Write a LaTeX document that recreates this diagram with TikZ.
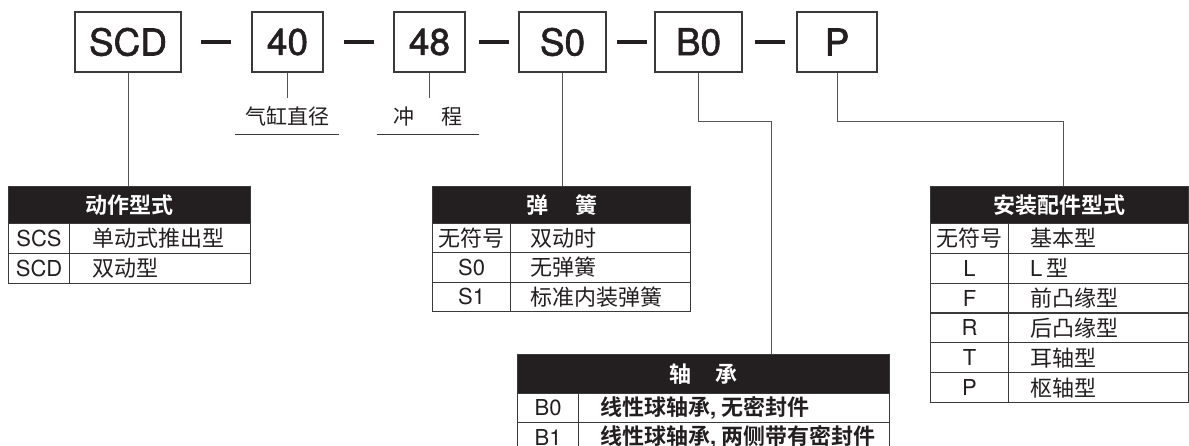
\documentclass[tikz,border=0pt]{standalone}
\usepackage{fontspec}
\setmainfont{TeX Gyre Heros}
\newfontfamily\codefont{TeX Gyre Heros}[FakeBold=1.5]
\newfontfamily\cjk{Noto Sans CJK SC}[BoldFont={Noto Sans CJK SC Bold}]
\usetikzlibrary{calc}
\definecolor{ink}{HTML}{231F20}
\definecolor{rulec}{HTML}{3A3A3A}
\definecolor{wirec}{HTML}{555555}
\begin{document}
\begin{tikzpicture}[x=1pt,y=-1pt,
 codebox/.style={draw=rulec,line width=1.3pt,inner sep=0pt,minimum height=60pt,font=\fontsize{37}{40}\codefont,text=ink},
 dashbar/.style={fill=ink,inner sep=0pt,minimum width=30pt,minimum height=4pt},
 wire/.style={draw=wirec,line width=1pt},
 uline/.style={draw=rulec,line width=1.3pt},
 lab/.style={inner xsep=0pt,inner ysep=10pt,text height=16pt,text depth=0pt,font=\fontsize{21}{24}\cjk,text=ink,anchor=north},
 hdr/.style={fill=ink,draw=rulec,line width=1.2pt,text=white,font=\fontsize{22}{26}\cjk\bfseries,inner sep=0pt,anchor=north west,minimum height=37pt},
 cell/.style={draw=rulec,line width=1.1pt,inner sep=0pt,anchor=north west,font=\fontsize{22}{26}\selectfont,text=ink},
 val/.style={anchor=west,inner sep=0pt,font=\fontsize{22}{26}\cjk,text=ink},
]
\useasboundingbox (0,0) rectangle (1189,446);
\clip (0,0) rectangle (1189,446);

% code boxes
\node[codebox,minimum width=106pt] (scd) at (128,42) {SCD};
\node[codebox,minimum width=71pt] (b40) at (287.5,42) {40};
\node[codebox,minimum width=71pt] (b48) at (429.5,42) {48};
\node[codebox,minimum width=87pt] (s0) at (562.5,42) {S0};
\node[codebox,minimum width=87pt] (b0) at (698.5,42) {B0};
\node[codebox,minimum width=80pt] (p) at (837,42) {P};
\node[dashbar] (d1) at (216,42) {};
\node[dashbar] (d2) at (359,42) {};
\node[dashbar] (d3) at (493.5,42) {};
\node[dashbar] (d4) at (632,42) {};
\node[dashbar] (d5) at (770,42) {};

% labels
\node[lab,minimum width=104pt] (dia) at (287,98) {气缸直径};
\node[lab,minimum width=102pt] (stk) at (428,98) {冲\hspace{28pt}程};
\draw[wire] (b40.south) -- (b40.south |- dia.north);
\draw[wire] (b48.south) -- (b48.south |- stk.north);
\draw[uline] (dia.south west) -- (dia.south east);
\draw[uline] (stk.south west) -- (stk.south east);

% table 1
\node[hdr,minimum width=242pt] (ah) at (8,186) {动作型式};
\node[cell,minimum width=61pt,minimum height=30pt] (a1k) at (8,223) {SCS};
\node[cell,minimum width=181pt,minimum height=30pt] (a1v) at (69,223) {};
\node[val] (a1t) at ([xshift=23pt]a1v.west) {单动式推出型};
\node[cell,minimum width=61pt,minimum height=30pt] (a2k) at (8,253) {SCD};
\node[cell,minimum width=181pt,minimum height=30pt] (a2v) at (69,253) {};
\node[val] (a2t) at ([xshift=23pt]a2v.west) {双动型};

% table 2
\node[hdr,minimum width=258pt] (bh) at (432,186) {弹\hspace{27pt}簧};
\node[cell,minimum width=78pt,minimum height=29.3pt] (b1k) at (432,223) {\cjk 无符号};
\node[cell,minimum width=180pt,minimum height=29.3pt] (b1v) at (510,223) {};
\node[val] (b1t) at ([xshift=20pt]b1v.west) {双动时};
\node[cell,minimum width=78pt,minimum height=29.3pt] (b2k) at (432,252.3) {S0};
\node[cell,minimum width=180pt,minimum height=29.3pt] (b2v) at (510,252.3) {};
\node[val] (b2t) at ([xshift=20pt]b2v.west) {无弹簧};
\node[cell,minimum width=78pt,minimum height=29.3pt] (b3k) at (432,281.7) {S1};
\node[cell,minimum width=180pt,minimum height=29.3pt] (b3v) at (510,281.7) {};
\node[val] (b3t) at ([xshift=20pt]b3v.west) {标准内装弹簧};

% table 3
\node[hdr,minimum width=372pt,minimum height=39pt] (ch) at (517,354) {轴\hspace{24pt}承};
\node[cell,minimum width=61pt,minimum height=29pt] (c1k) at (517,393) {B0};
\node[cell,minimum width=311pt,minimum height=29pt] (c1v) at (578,393) {};
\node[val,font=\fontsize{22}{26}\cjk\bfseries] (c1t) at ([xshift=22pt]c1v.west) {线性球轴承{\rmfamily\bfseries,} 无密封件};
\node[cell,minimum width=61pt,minimum height=29pt] (c2k) at (517,422) {B1};
\node[cell,minimum width=311pt,minimum height=29pt] (c2v) at (578,422) {};
\node[val,font=\fontsize{22}{26}\cjk\bfseries] (c2t) at ([xshift=22pt]c2v.west) {线性球轴承{\rmfamily\bfseries,} 两侧带有密封件};

% table 4
\node[hdr,minimum width=258pt] (dh) at (930,186) {安装配件型式};
\foreach \k/\v/\y [count=\i] in {{\cjk 无符号}/基本型/223, L/{\rmfamily L}\hspace{4pt}型/252.8, F/前凸缘型/282.7, R/后凸缘型/312.5, T/耳轴型/342.3, P/枢轴型/372.2}{
  \node[cell,minimum width=78pt,minimum height=29.8pt] (d\i k) at (930,\y) {\k};
  \node[cell,minimum width=180pt,minimum height=29.8pt] (d\i v) at (1008,\y) {};
  \node[val] (d\i t) at ([xshift=22pt]d\i v.west) {\v};
}

% connectors
\coordinate (bbend) at (771,122);
\coordinate (pbend) at (1063,122);
\draw[wire] (scd.south) -- (scd.south |- ah.north);
\draw[wire] (s0.south) -- (s0.south |- bh.north);
\draw[wire] (b0.south) |- (bbend) -- (bbend |- ch.north);
\draw[wire] (p.south) |- (pbend) -- (pbend |- dh.north);
\end{tikzpicture}
\end{document}
